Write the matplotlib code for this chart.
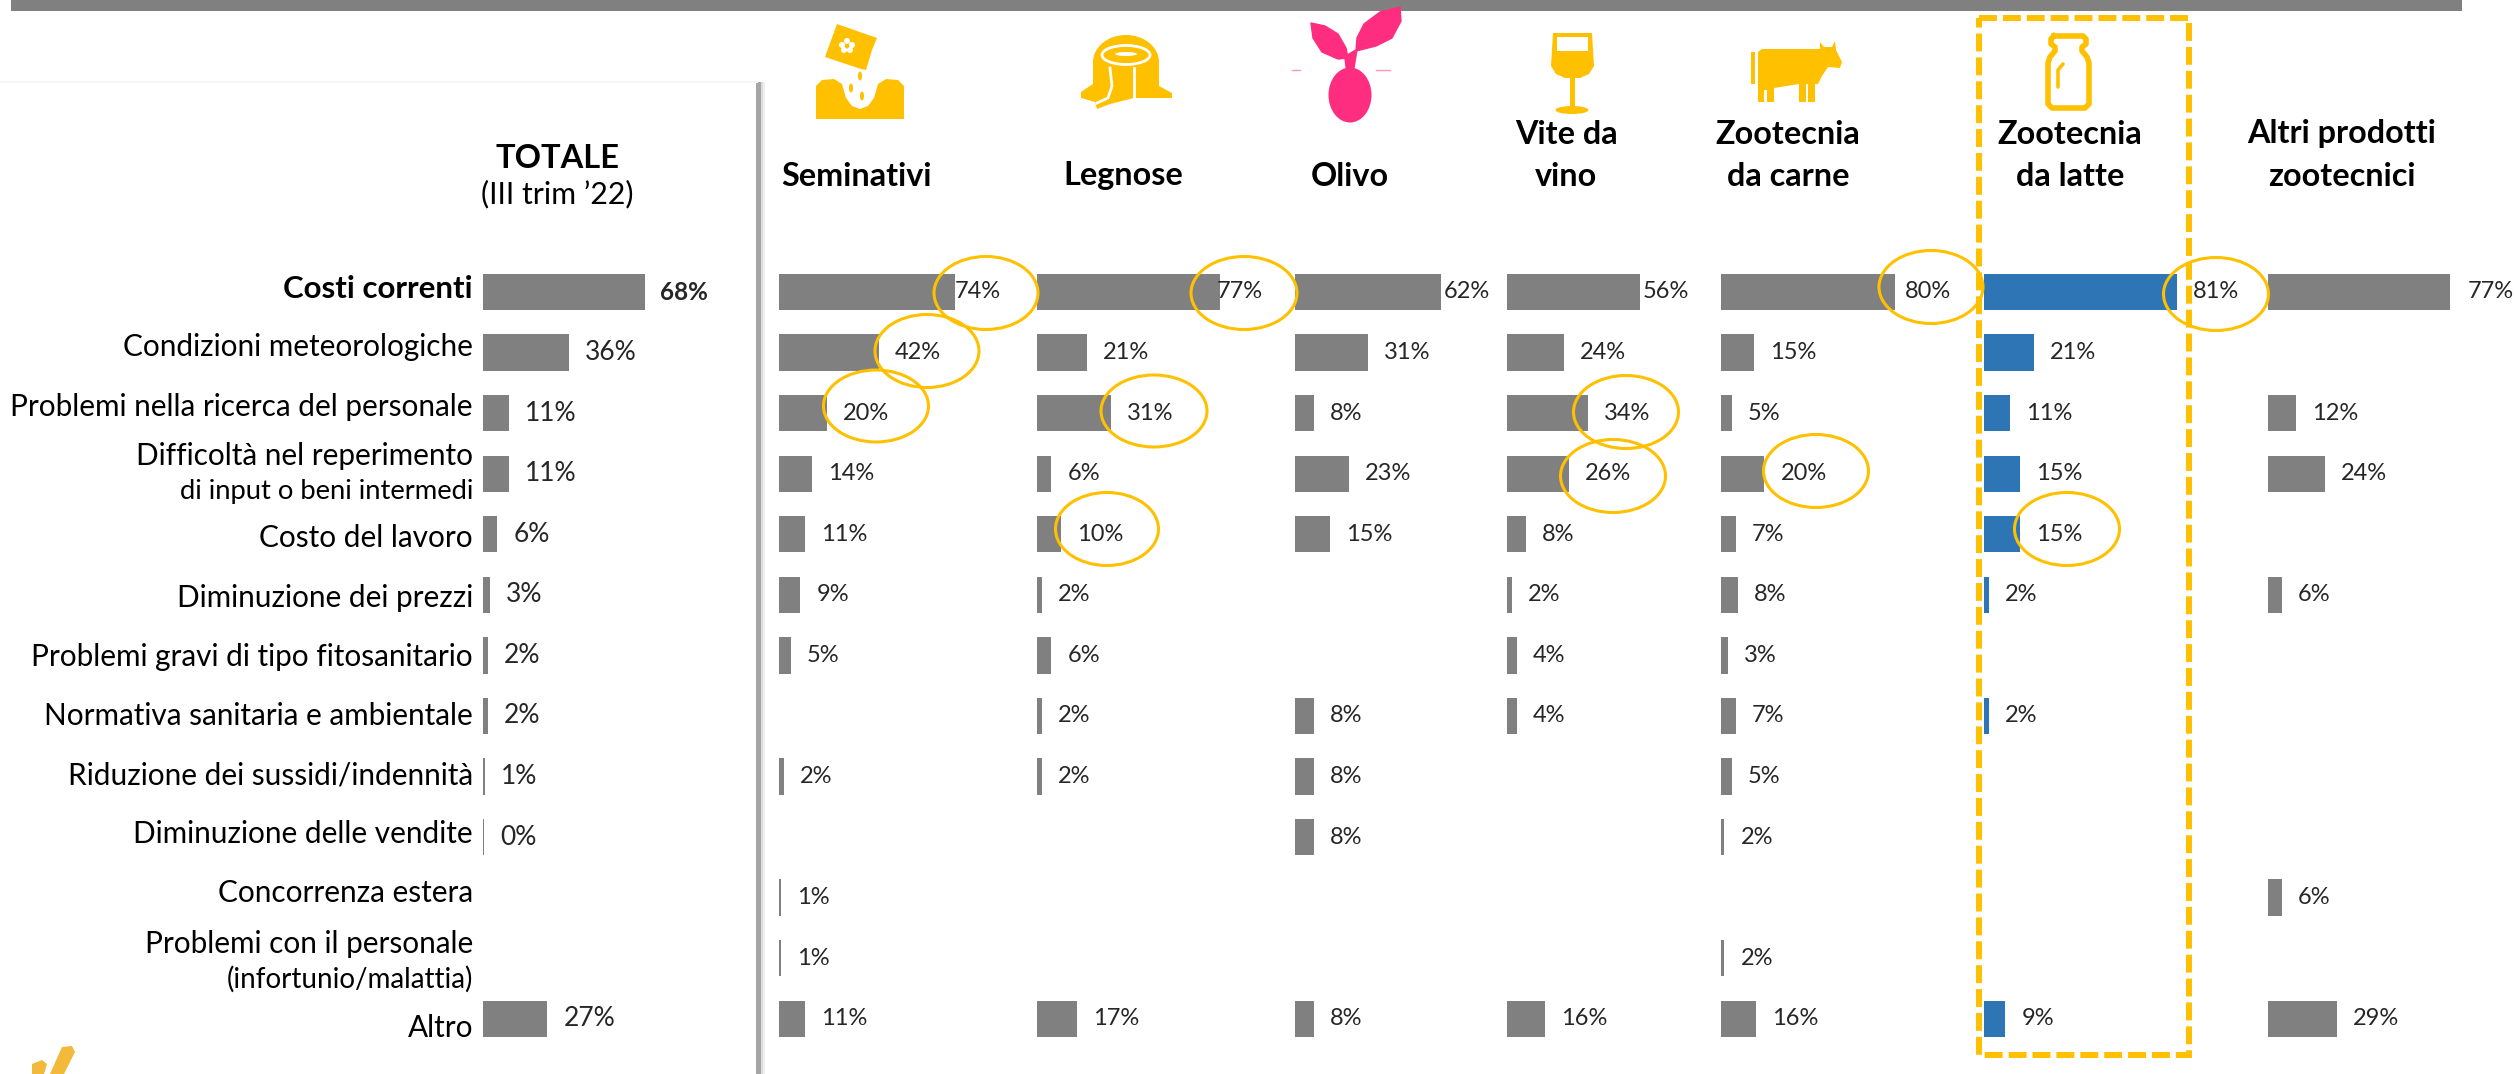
import matplotlib
matplotlib.use("Agg")
import matplotlib.pyplot as plt
from matplotlib.patches import Ellipse, Polygon, Rectangle

plt.rcParams['font.family'] = ['Lato', 'DejaVu Sans']

W, H = 2514, 1074
GREY = '#808080'
BLUE = '#2E75B6'
GOLD = '#FFC000'
PINK = '#FF2D7F'

# row labels, the second line of the two line ones is added further down
categories = ['Costi correnti', 'Condizioni meteorologiche', 'Problemi nella ricerca del personale',
              'Difficoltà nel reperimento', 'Costo del lavoro', 'Diminuzione dei prezzi',
              'Problemi gravi di tipo fitosanitario', 'Normativa sanitaria e ambientale',
              'Riduzione dei sussidi/indennità', 'Diminuzione delle vendite', 'Concorrenza estera',
              'Problemi con il personale', 'Altro']

totale = [68, 36, 11, 11, 6, 3, 2, 2, 1, 0.4, None, None, 27]
seminativi = [74, 42, 20, 14, 11, 9, 5, None, 2, None, 0.8, 0.8, 11]
legnose = [77, 21, 31, 6, 10, 2, 6, 2, 2, None, None, None, 17]
olivo = [62, 31, 8, 23, 15, None, None, 8, 8, 8, None, None, 8]
vite = [56, 24, 34, 26, 8, 2, 4, 4, None, None, None, None, 16]
carne = [80, 15, 5, 20, 7, 8, 3, 7, 5, 1.6, None, 1.6, 16]
latte = [81, 21, 11, 15, 15, 2, None, 2, None, None, None, None, 9]
altri = [77, None, 12, 24, None, 6, None, None, None, None, 6, None, 29]

fig = plt.figure(figsize=(W / 100, H / 100), dpi=100, facecolor='white')

# rows sit 60.56 px apart, first one centred on y=292
ROW0, ROWH = 292, 60.56
ax_top = ROW0 - ROWH / 2
ax_h = ROWH * 13


def column(vals, x0, px_per, first_pad, color=GREY, font=17, bold_first=False):
    width = 240
    ax = fig.add_axes([x0 / W, 1 - (ax_top + ax_h) / H, width / W, ax_h / H])
    ax.set_xlim(0, width / px_per)
    ax.set_ylim(12.5, -0.5)
    ax.axis('off')
    for i, v in enumerate(vals):
        if v is None:
            continue
        ax.barh(i, v, height=0.6, color=color, linewidth=0)
        pad = first_pad if i == 0 else 16
        bold = bold_first and i == 0
        ax.annotate(f'{v:.0f}%', (v, i), xytext=(pad, 0), textcoords='offset pixels',
                    va='center', ha='left', fontsize=17.5 if bold else font, color='#262626',
                    fontweight='bold' if bold else 'normal', annotation_clip=False, zorder=5)
    return ax


column(totale, 483, 2.38, 15, font=19, bold_first=True)
column(seminativi, 779, 2.38, 0)
column(legnose, 1037, 2.38, -4)
column(olivo, 1295, 2.36, 2)
column(vite, 1507, 2.38, 2)
column(carne, 1721, 2.17, 10)
column(latte, 1984, 2.38, 16, color=BLUE)
column(altri, 2268, 2.37, 17)

# overlay in pixel coordinates for the text, icons and marks on top
ov = fig.add_axes([0, 0, 1, 1], zorder=10)
ov.set_xlim(0, W)
ov.set_ylim(H, 0)
ov.axis('off')
ov.patch.set_alpha(0)

ov.add_patch(Rectangle((11, 0), 2451, 11, color=GREY, lw=0))
ov.plot([0, 757], [82, 82], color='#f6f6f6', lw=1.5)
ov.add_patch(Rectangle((756, 82), 5, H - 82, color='#a6a6a6', lw=0))
ov.add_patch(Rectangle((761, 82), 2, H - 82, color='#dddddd', lw=0))
ov.add_patch(Rectangle((763, 82), 2, H - 82, color='#f0f0f0', lw=0))

# row labels
label_y = [289, 347, 407, 456, 538, 598, 657, 716, 775, 834, 893, 944, 1028]
for i, (c, y) in enumerate(zip(categories, label_y)):
    ov.text(473, y, c, ha='right', va='center', fontsize=22.5 if i == 0 else 21.4, color='black',
            fontweight='bold' if i == 0 else 'normal')
ov.text(473, 492, 'di input o beni intermedi', ha='right', va='center', fontsize=19.7, color='black')
ov.text(473, 979, '(infortunio/malattia)', ha='right', va='center', fontsize=20, color='black')


# headers
def head(x, y, s, size=23.3):
    ov.text(x, y, s, ha='center', va='center', fontsize=size, fontweight='bold', color='black')


head(557, 159, 'TOTALE', size=23.5)
ov.text(557, 194, '(III trim ’22)', ha='center', va='center', fontsize=21.8, color='black')
head(856, 176, 'Seminativi')
head(1123, 176, 'Legnose')
head(1350, 176, 'Olivo')
head(1566, 134, 'Vite da')
head(1566, 176, 'vino')
head(1788, 134, 'Zootecnia')
head(1788, 176, 'da carne')
head(2070, 134, 'Zootecnia')
head(2070, 176, 'da latte')
head(2342, 134, 'Altri prodotti')
head(2342, 176, 'zootecnici')

# highlight circles
circles = [(986, 293, 104, 73), (927, 351, 104, 73), (876, 406, 105, 72), (1244, 293, 106, 73),
           (1154, 411, 106, 72), (1626, 412, 105, 73), (1613, 476, 105, 73), (1816, 471, 105, 73),
           (1931, 287, 104, 73), (1107, 529, 103, 73), (2216, 294, 105, 73), (2067, 529, 105, 73)]
for cx, cy, w, h in circles:
    ov.add_patch(Ellipse((cx, cy), w, h, fill=False, ec=GOLD, lw=2.2))

# dashed box round the dairy column
ov.add_patch(Rectangle((1979, 18), 210, 1037, fill=False, ec=GOLD, lw=4.3, linestyle=(0, (3, 1))))

# seminativi icon
ov.add_patch(Polygon([(837, 24), (877, 38), (872, 50), (866, 70), (861, 69), (825, 57)], color=GOLD, lw=0))
for dx, dy in [(0, -5), (5, -1), (3, 4), (-3, 4), (-5, -1)]:
    ov.add_patch(Ellipse((847 + dx, 46 + dy), 6, 6, color='white', lw=0))
ov.add_patch(Ellipse((847, 46), 4, 4, color=GOLD, lw=0))
ov.add_patch(Polygon([(816, 119), (816, 86), (822, 80), (834, 79), (842, 84), (846, 98), (852, 106), (860, 109),
                      (868, 106), (874, 98), (878, 84), (886, 79), (898, 80), (904, 86), (904, 119)], color=GOLD, lw=0))
for x, y in [(860, 76), (851, 88), (862, 96)]:
    ov.add_patch(Ellipse((x, y), 4, 9, color=GOLD, lw=0))

# legnose icon
ov.add_patch(Ellipse((1126, 62), 66, 54, color=GOLD, lw=0))
ov.add_patch(Polygon([(1093, 62), (1159, 62), (1159, 86), (1172, 93), (1172, 98), (1134, 98), (1110, 104),
                      (1097, 109), (1095, 102), (1081, 98), (1081, 92), (1093, 84)], color=GOLD, lw=0))
ov.add_patch(Ellipse((1126, 55), 48, 19, fill=False, ec='white', lw=2))
ov.add_patch(Ellipse((1126, 54), 22, 4, color='white', lw=0))
ov.plot([1110, 1112, 1108, 1097], [68, 86, 98, 103], color='white', lw=2)
ov.plot([1134, 1134], [68, 98], color='white', lw=2)

# olivo icon
ov.add_patch(Ellipse((1350, 95), 43, 55, color=PINK, lw=0))
ov.add_patch(Polygon([(1311, 23), (1325, 26), (1338, 34), (1346, 48), (1348, 58), (1338, 59), (1322, 52), (1313, 38)],
                     color=PINK, lw=1, joinstyle='round'))
ov.add_patch(Polygon([(1400, 7), (1401, 21), (1392, 38), (1376, 46), (1356, 51), (1357, 38), (1364, 24), (1380, 12)],
                     color=PINK, lw=1, joinstyle='round'))
ov.add_patch(Polygon([(1344, 56), (1358, 48), (1354, 72), (1346, 72)], color=PINK, lw=0))
ov.plot([1292, 1300], [70, 70], color=PINK, lw=1, alpha=0.5)
ov.plot([1376, 1390], [70, 70], color=PINK, lw=1, alpha=0.5)

# vite icon
ov.add_patch(Polygon([(1553, 33), (1592, 33), (1594, 66), (1589, 74), (1580, 78), (1565, 78), (1556, 74), (1551, 66)],
                     color=GOLD, lw=0))
ov.add_patch(Rectangle((1557, 37), 31, 14, color='white', lw=0))
ov.add_patch(Rectangle((1570, 76), 5, 32, color=GOLD, lw=0))
ov.add_patch(Ellipse((1572, 110), 33, 8, color=GOLD, lw=0))

# zootecnia da carne icon
ov.add_patch(Polygon([(1758, 52), (1762, 49), (1820, 49), (1820, 42), (1824, 47), (1832, 47), (1835, 41), (1836, 50),
                      (1842, 62), (1840, 68), (1828, 67), (1822, 76), (1818, 84), (1815, 84), (1815, 102), (1808, 102),
                      (1808, 84), (1806, 84), (1806, 102), (1799, 102), (1799, 84), (1774, 88), (1774, 102),
                      (1767, 102), (1767, 90), (1764, 90), (1764, 102), (1758, 102)], color=GOLD, lw=0))
ov.add_patch(Rectangle((1751, 52), 4, 32, color=GOLD, lw=0))

# zootecnia da latte icon
ov.plot([2054, 2083, 2086, 2086, 2082, 2082, 2087, 2089, 2089, 2085, 2052, 2048, 2048, 2050, 2055, 2055, 2051, 2051, 2054],
        [36, 36, 39, 44, 47, 51, 57, 63, 104, 108, 108, 104, 63, 57, 51, 47, 44, 39, 36],
        color=GOLD, lw=4, solid_joinstyle='round')
ov.plot([2058, 2058, 2063], [87, 70, 64], color=GOLD, lw=2.6, solid_capstyle='round')

# check mark cut off at the bottom left
ov.add_patch(Polygon([(62, 1047), (72, 1046), (75, 1052), (64, 1074), (50, 1074)], color='#F2B93B', lw=0))
ov.add_patch(Polygon([(32, 1064), (42, 1060), (47, 1064), (44, 1074), (32, 1074)], color='#F2B93B', lw=0))

fig.savefig('out.png', dpi=100, facecolor='white')
